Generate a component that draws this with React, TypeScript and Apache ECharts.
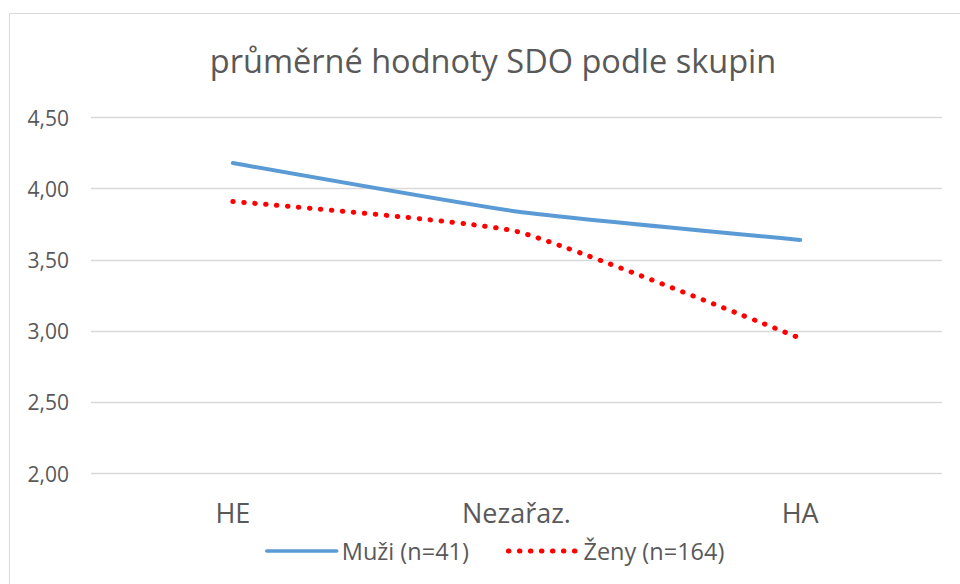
import React, { useEffect, useRef } from "react";
import * as echarts from "echarts";

const categories = ["HE", "Nezařaz.", "HA"];
const muziValues = [4.18, 3.84, 3.64];
const zenyValues = [3.91, 3.70, 2.95];
const seriesNames = ["Muži (n=41)", "Ženy (n=164)"];
const titleText = "průměrné hodnoty SDO podle skupin";

const FONT = "'Open Sans', sans-serif";
const TEXT_COLOR = "#595959";

export default function App() {
  const ref = useRef<HTMLDivElement>(null);
  useEffect(() => {
    if (!ref.current) return;
    const chart = echarts.init(ref.current, null, { renderer: "svg" });
    chart.setOption({
      animation: false,
      backgroundColor: "#ffffff",
      title: {
        text: titleText,
        left: 488,
        textAlign: "center",
        top: 39,
        textStyle: { fontFamily: FONT, fontSize: 32.5, fontWeight: "normal", color: TEXT_COLOR },
      },
      graphic: [
        {
          type: "rect",
          shape: { x: 9.5, y: 13.5, width: 1000, height: 1000 },
          style: { fill: "none", stroke: "#d9d9d9", lineWidth: 1 },
          silent: true,
        },
      ],
      legend: {
        top: 534,
        left: 260,
        itemWidth: 70,
        itemHeight: 14,
        itemGap: 37,
        itemStyle: { opacity: 0 },
        textStyle: { fontFamily: FONT, fontSize: 23.5, color: TEXT_COLOR },
        data: [
          { name: seriesNames[0], lineStyle: { width: 3.5 } },
          { name: seriesNames[1], lineStyle: { width: 5 } },
        ],
      },
      grid: { left: 91, right: 18, top: 117.5, bottom: 110.5, containLabel: false },
      xAxis: {
        type: "category",
        data: categories,
        boundaryGap: true,
        axisLine: { show: false },
        axisTick: { show: false },
        axisLabel: { fontFamily: FONT, fontSize: 27, color: TEXT_COLOR, margin: 25 },
      },
      yAxis: {
        type: "value",
        min: 2,
        max: 4.5,
        interval: 0.5,
        axisLine: { show: false },
        axisTick: { show: false },
        splitLine: { lineStyle: { color: "#d9d9d9", width: 1.3 } },
        axisLabel: {
          fontFamily: FONT,
          fontSize: 21,
          color: TEXT_COLOR,
          margin: 22,
          formatter: (v: number) => v.toFixed(2).replace(".", ","),
        },
      },
      series: [
        {
          name: seriesNames[0],
          type: "line",
          data: muziValues,
          symbol: "none",
          smooth: 0.15,
          itemStyle: { color: "#5b9bd5" },
          lineStyle: { color: "#5b9bd5", width: 4, cap: "round" },
        },
        {
          name: seriesNames[1],
          type: "line",
          data: zenyValues,
          symbol: "none",
          smooth: 0.15,
          itemStyle: { color: "#ff0000" },
          lineStyle: { color: "#ff0000", width: 5, type: [0.5, 10.5], cap: "round" },
        },
      ],
    });
    return () => chart.dispose();
  }, []);
  return (
    <div
      ref={ref}
      style={{ position: "fixed", left: 0, top: 0, width: 960, height: 584 }}
    />
  );
}
